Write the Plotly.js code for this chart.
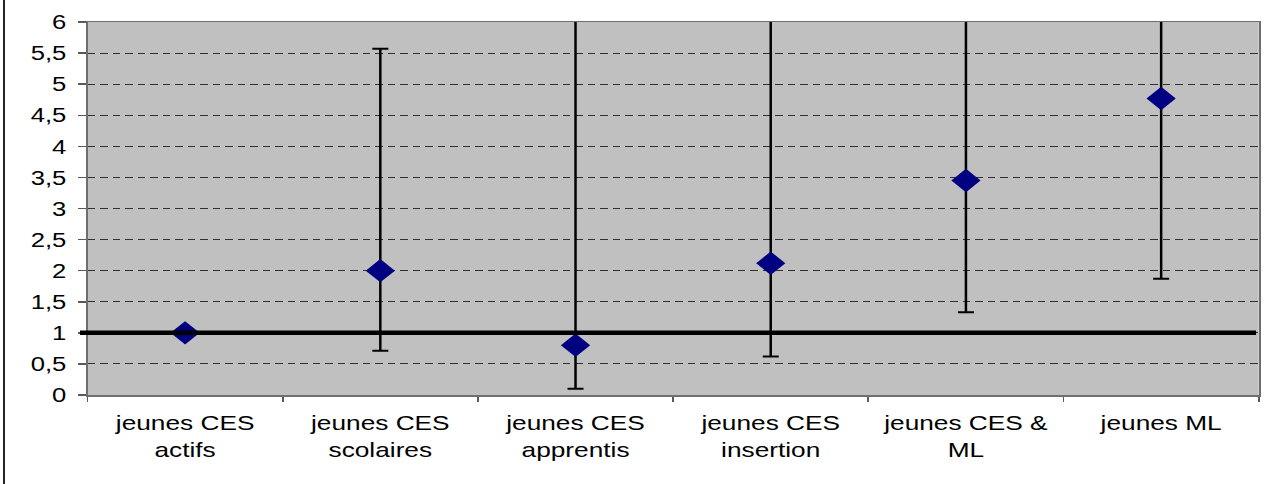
<!DOCTYPE html>
<html>
<head>
<meta charset="utf-8">
<script src="https://cdn.plot.ly/plotly-3.0.1.min.js"></script>
<style>
  html, body { margin: 0; padding: 0; background: #ffffff; overflow: hidden; }
  #chart { width: 1022px; height: 484px; transform: scaleX(1.25); transform-origin: 0 0; }
</style>
</head>
<body>
<div id="chart"></div>
<script>
// Categories (x axis)
const categories = [
  'jeunes CES<br>actifs',
  'jeunes CES<br>scolaires',
  'jeunes CES<br>apprentis',
  'jeunes CES<br>insertion',
  'jeunes CES &<br>ML',
  'jeunes ML'
];
// Point estimates (diamonds)
const oddsRatio = [1.00, 2.00, 0.80, 2.12, 3.45, 4.77];
// Lower bounds of intervals
const ciLow = [1.00, 0.71, 0.10, 0.62, 1.33, 1.87];
// Upper bounds of intervals (values above 6 run off the top of the chart)
const ciHigh = [1.00, 5.57, 6.19, 6.19, 6.19, 6.19];
// Reference level
const refLevel = 1;
// Y axis
const yMin = 0, yMax = 6, yStep = 0.5;

const yTop = yMax;
const upperCapped = ciHigh.map((h, i) => h <= yTop ? h - oddsRatio[i] : 0);
const upperOpen = ciHigh.map((h, i) => h > yTop ? h - oddsRatio[i] : 0);
const lowerErr = ciLow.map((l, i) => oddsRatio[i] - l);

const traces = [
  {
    type: 'scatter', mode: 'markers', x: categories, y: oddsRatio,
    marker: { opacity: 0, size: 1 },
    error_y: { type: 'data', symmetric: false, array: upperOpen, arrayminus: oddsRatio.map(() => 0),
               color: '#000000', thickness: 2, width: 0 },
    cliponaxis: false, hoverinfo: 'skip', showlegend: false
  },
  {
    type: 'scatter', mode: 'markers', x: categories, y: oddsRatio,
    marker: { symbol: 'diamond', size: 18, color: '#000080', line: { width: 0 } },
    error_y: { type: 'data', symmetric: false, array: upperCapped, arrayminus: lowerErr,
               color: '#000000', thickness: 2, width: 6.4 },
    cliponaxis: false, showlegend: false
  }
];

const layout = {
  width: 1022, height: 484,
  margin: { l: 70, r: 15, t: 22, b: 89, pad: 0 },
  paper_bgcolor: '#ffffff',
  plot_bgcolor: '#c0c0c0',
  separators: ', ',
  font: { family: '"Liberation Sans", Arial, sans-serif', size: 20, color: '#000000' },
  showlegend: false,
  xaxis: {
    type: 'category',
    range: [-0.5, 5.5],
    tickson: 'boundaries',
    ticks: 'outside', ticklen: 5, tickwidth: 1.5, tickcolor: '#595959',
    ticklabelstandoff: 8,
    showline: true, linecolor: '#6e6e6e', linewidth: 1.5, mirror: true,
    showgrid: false, zeroline: false,
    tickfont: { size: 21 }
  },
  yaxis: {
    range: [yMin, yMax],
    tick0: 0, dtick: yStep,
    ticks: 'outside', ticklen: 6.4, tickwidth: 1.5, tickcolor: '#595959',
    ticklabelstandoff: 5,
    showline: true, linecolor: '#6e6e6e', linewidth: 1.5, mirror: true,
    showgrid: true, gridcolor: '#303030', gridwidth: 1, griddash: '6px,4px',
    zeroline: false,
    tickfont: { size: 20.5 }
  },
  shapes: [
    { type: 'line', xref: 'paper', yref: 'y', x0: -0.0064, x1: 0.9977, y0: refLevel, y1: refLevel,
      line: { color: '#000000', width: 4.5 }, layer: 'above' },
    { type: 'line', xref: 'paper', yref: 'paper', x0: -0.0713, x1: -0.0713, y0: -0.2386, y1: 1.06,
      line: { color: '#222222', width: 1.6 }, layer: 'above' }
  ]
};

Plotly.newPlot('chart', traces, layout, { displayModeBar: false, staticPlot: true });
</script>
</body>
</html>
